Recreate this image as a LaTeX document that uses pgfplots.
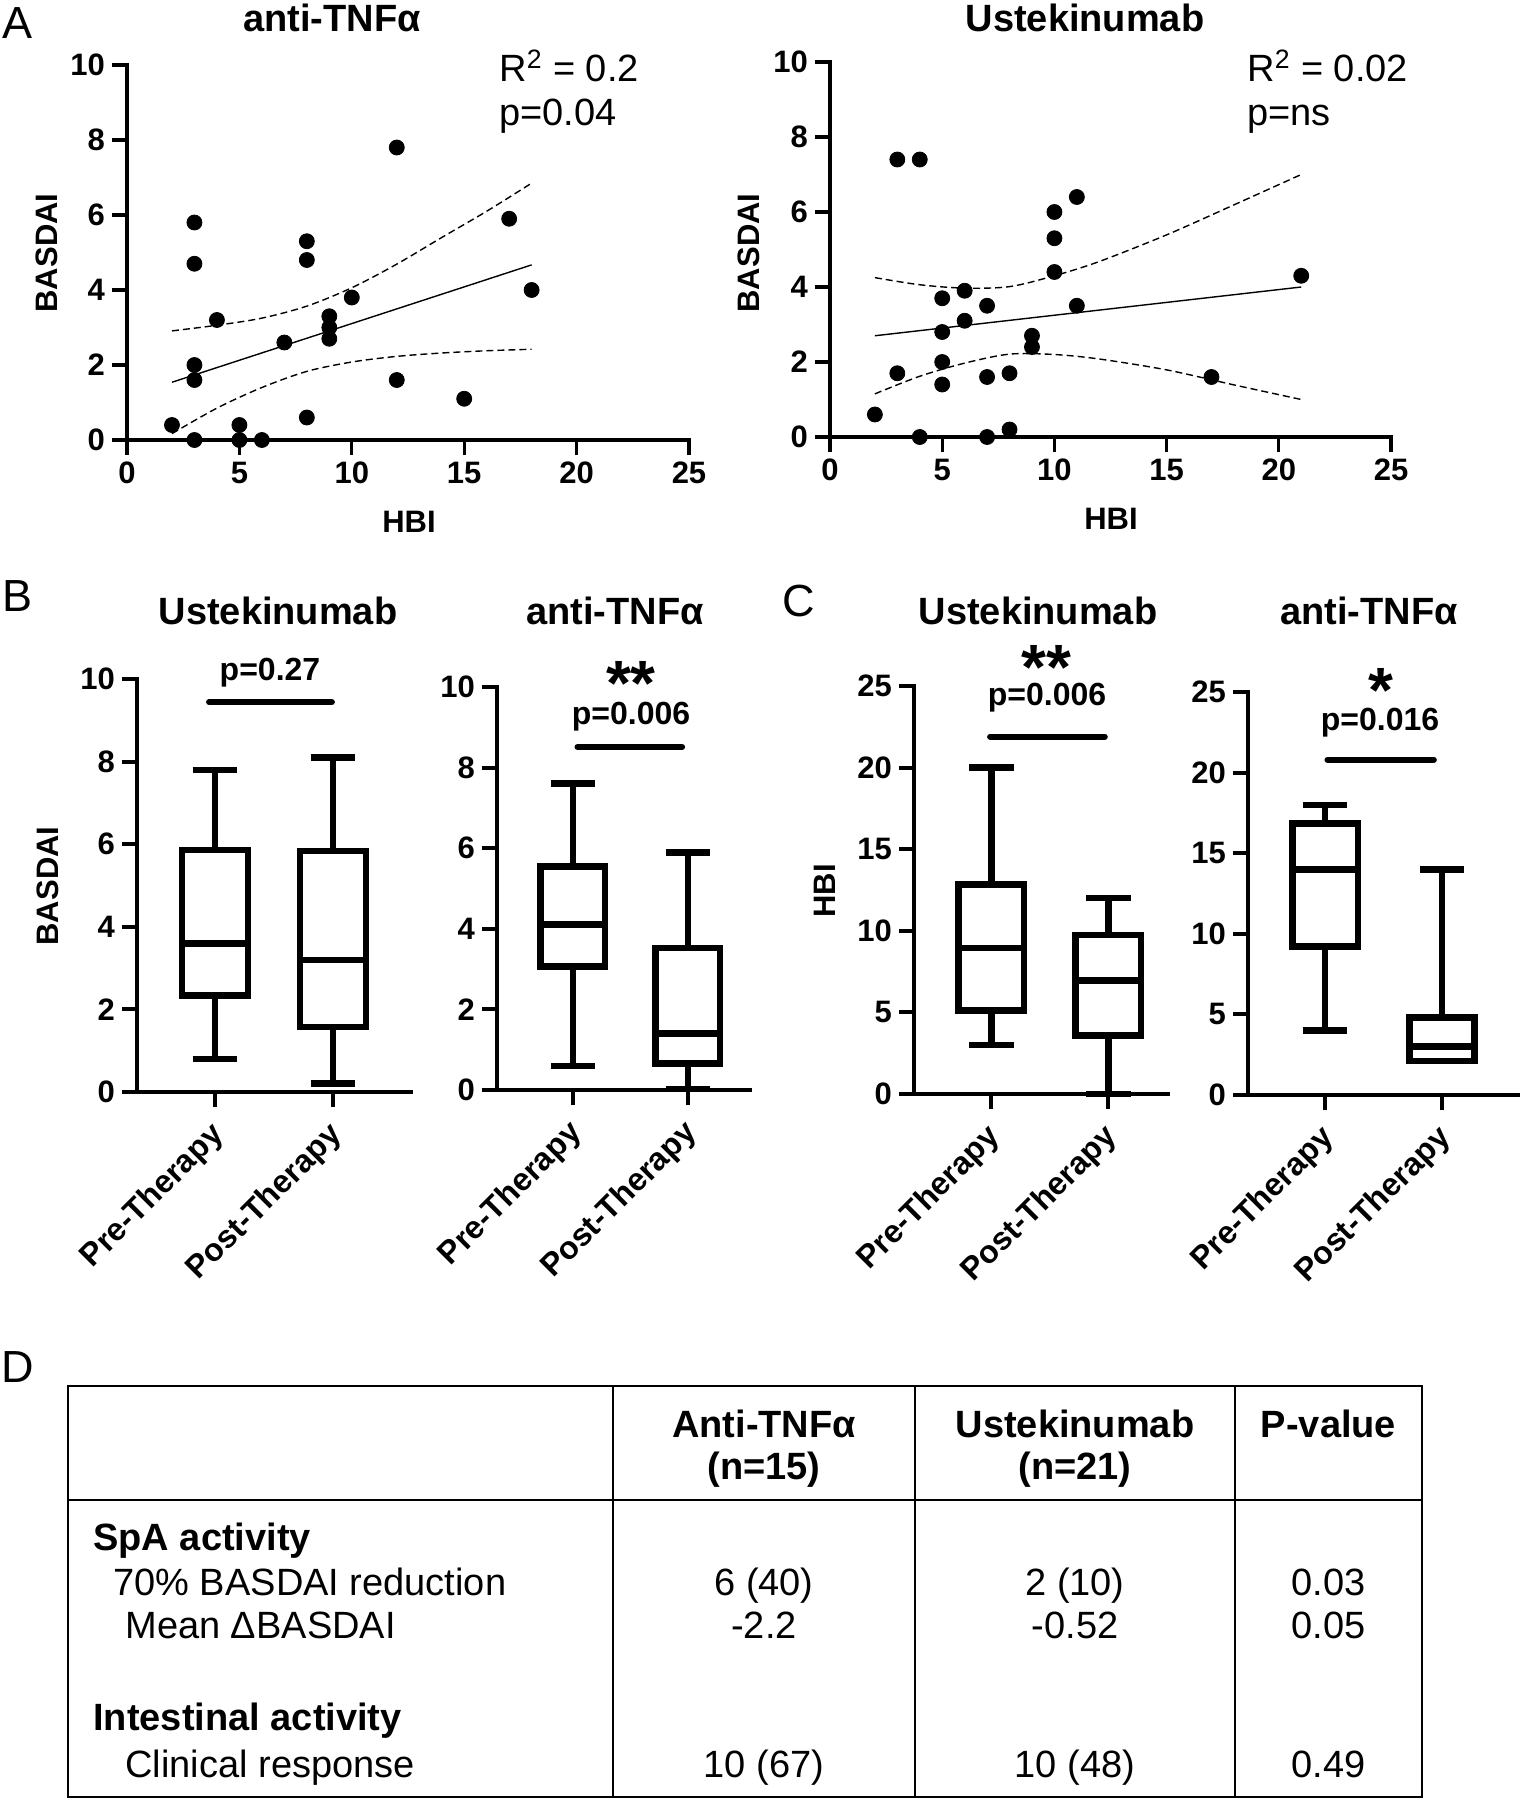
\documentclass[border=0pt]{standalone}
\usepackage{fontspec}
\setmainfont{Liberation Sans}
\usepackage{pgfplots}
\pgfplotsset{compat=1.18}
\usepgfplotslibrary{statistics}
\newcommand\fs[1]{\fontsize{#1}{#1}\selectfont}

\pgfplotsset{
  base/.style={scale only axis, axis lines=left, clip=false, tick align=outside,
    major tick length=7.5pt, /pgf/number format/assume math mode=true,
    tick label style={font=\fs{15.5}\bfseries, black}, anchor=south west},
  sc/.style={base, axis line style={-, line width=1.6pt, line cap=rect},
    tick style={line width=1.6pt, black},
    xmin=0, xmax=25, ymin=0, ymax=10, xtick={0,5,...,25}, ytick={0,2,...,10}},
  bx/.style={base, axis line style={-, line width=2pt, line cap=rect},
    tick style={line width=2pt, black}, boxplot/draw direction=y,
    boxplot/every box/.append style={draw=black, line width=3.3pt},
    boxplot/every whisker/.append style={draw=black, line width=3.3pt},
    boxplot/every median/.append style={draw=black, line width=3.3pt},
    xtick={0,1}, xticklabels={Pre-Therapy,Post-Therapy},
    xticklabel style={rotate=45, anchor=east, xshift=-3.25pt, yshift=-9.75pt, font=\fs{16}\bfseries}},
  bxp/.style={black, line width=3.3pt, solid},
}

\begin{document}
\begin{tikzpicture}
\useasboundingbox (0,0) rectangle (760pt,-900pt);

% ---------------- A left: anti-TNF scatter
\begin{axis}[sc, at={(63.5pt,-220pt)}, width=281pt, height=187.5pt]
\addplot[black, line width=0.7pt, dash pattern=on 3.5pt off 2pt, smooth] coordinates
  {(2,2.91) (4,3.06) (6,3.25) (8,3.57) (10,4.06) (12,4.69) (14,5.4) (16,6.1) (18,6.85)};
\addplot[black, line width=0.7pt, dash pattern=on 3.5pt off 2pt, smooth] coordinates
  {(2,0.17) (4,0.85) (6,1.4) (8,1.83) (10,2.08) (12,2.23) (14,2.32) (16,2.38) (18,2.42)};
\addplot[black, line width=0.7pt] coordinates {(2,1.54) (18,4.67)};
\addplot[only marks, mark=*, mark size=3.75pt, black] coordinates
  {(2,0.4) (3,5.8) (3,4.7) (3,2.0) (3,1.6) (3,0) (4,3.2) (5,0.4) (5,0) (6,0)
   (7,2.6) (8,5.3) (8,4.8) (8,0.6) (9,3.3) (9,3.0) (9,2.7) (10,3.8) (12,7.8)
   (12,1.6) (15,1.1) (17,5.9) (18,4.0)};
\end{axis}

% ---------------- A right: Ustekinumab scatter
\begin{axis}[sc, at={(415pt,-218.5pt)}, width=280.5pt, height=187.5pt]
\addplot[black, line width=0.7pt, dash pattern=on 3.5pt off 2pt, smooth] coordinates
  {(2,4.25) (4,4.06) (6,3.97) (8,4.01) (10,4.3) (12,4.68) (15,5.39) (18,6.19) (21,7.0)};
\addplot[black, line width=0.7pt, dash pattern=on 3.5pt off 2pt, smooth] coordinates
  {(2,1.15) (4,1.62) (6,1.97) (8,2.21) (10,2.2) (12,2.08) (15,1.79) (18,1.39) (21,1.0)};
\addplot[black, line width=0.7pt] coordinates {(2,2.7) (21,4.0)};
\addplot[only marks, mark=*, mark size=3.75pt, black] coordinates
  {(2,0.6) (3,7.4) (4,7.4) (3,1.7) (4,0) (5,3.7) (5,2.8) (5,2.0) (5,1.4) (6,3.9)
   (6,3.1) (7,3.5) (7,1.6) (7,0) (8,1.7) (8,0.2) (9,2.7) (9,2.4) (10,6.0)
   (10,5.3) (10,4.4) (11,6.4) (11,3.5) (17,1.6) (21,4.3)};
\end{axis}

% ---------------- B left: Ustekinumab BASDAI
\begin{axis}[bx, at={(68.5pt,-546pt)}, width=137pt, height=206.5pt,
  xmin=-0.66, xmax=1.66, ymin=0, ymax=10, ytick={0,2,...,10}]
\addplot[bxp, boxplot prepared={draw position=0, lower whisker=0.8, lower quartile=2.33,
  median=3.6, upper quartile=5.86, upper whisker=7.8, box extend=0.56, whisker extend=0.38}] coordinates {};
\addplot[bxp, boxplot prepared={draw position=1, lower whisker=0.2, lower quartile=1.57,
  median=3.2, upper quartile=5.84, upper whisker=8.1, box extend=0.56, whisker extend=0.38}] coordinates {};
\addplot[black, line width=3pt, line cap=round] coordinates {(-0.05,9.44) (0.99,9.44)};
\end{axis}

% ---------------- B right: anti-TNF BASDAI
\begin{axis}[bx, at={(248.5pt,-545pt)}, width=126.5pt, height=201.5pt,
  xmin=-0.66, xmax=1.54, ymin=0, ymax=10, ytick={0,2,...,10}]
\addplot[bxp, boxplot prepared={draw position=0, lower whisker=0.6, lower quartile=3.07,
  median=4.1, upper quartile=5.55, upper whisker=7.6, box extend=0.56, whisker extend=0.38}] coordinates {};
\addplot[bxp, boxplot prepared={draw position=1, lower whisker=0.03, lower quartile=0.66,
  median=1.4, upper quartile=3.52, upper whisker=5.9, box extend=0.56, whisker extend=0.38}] coordinates {};
\addplot[black, line width=3pt, line cap=round] coordinates {(0.04,8.51) (0.95,8.51)};
\end{axis}

% ---------------- C left: Ustekinumab HBI
\begin{axis}[bx, at={(457pt,-547pt)}, width=127pt, height=204pt,
  xmin=-0.66, xmax=1.51, ymin=0, ymax=25, ytick={0,5,...,25}]
\addplot[bxp, boxplot prepared={draw position=0, lower whisker=3, lower quartile=5.1,
  median=8.95, upper quartile=12.85, upper whisker=20, box extend=0.56, whisker extend=0.38}] coordinates {};
\addplot[bxp, boxplot prepared={draw position=1, lower whisker=0, lower quartile=3.6,
  median=6.95, upper quartile=9.75, upper whisker=12, box extend=0.56, whisker extend=0.38}] coordinates {};
\addplot[black, line width=3pt, line cap=round] coordinates {(-0.01,21.9) (0.97,21.9)};
\end{axis}

% ---------------- C right: anti-TNF HBI
\begin{axis}[bx, at={(624pt,-547.5pt)}, width=135pt, height=201.5pt,
  xmin=-0.66, xmax=1.65, ymin=0, ymax=25, ytick={0,5,...,25}]
\addplot[bxp, boxplot prepared={draw position=0, lower whisker=4, lower quartile=9.2,
  median=14, upper quartile=16.85, upper whisker=18, box extend=0.56, whisker extend=0.38}] coordinates {};
\addplot[bxp, boxplot prepared={draw position=1, lower whisker=2.1, lower quartile=2.1,
  median=3.0, upper quartile=4.8, upper whisker=14, box extend=0.56, whisker extend=0.38}] coordinates {};
\addplot[black, line width=3pt, line cap=round] coordinates {(0.02,20.8) (0.93,20.8)};
\end{axis}

% ---------------- texts
\begin{scope}[every node/.style={inner sep=0pt}]
% panel letters
\node[anchor=base west, font=\fs{22.5}] at (1pt,-19pt) {A};
\node[anchor=base west, font=\fs{22.5}] at (1pt,-305.5pt) {B};
\node[anchor=base west, font=\fs{22.5}] at (391pt,-308pt) {C};
\node[anchor=base west, font=\fs{22.5}] at (0.5pt,-691pt) {D};
% titles
\node[anchor=base, font=\fs{19}\bfseries] at (166pt,-15.5pt) {anti-TNFα};
\node[anchor=base, font=\fs{19}\bfseries] at (542.5pt,-15.5pt) {Ustekinumab};
\node[anchor=base, font=\fs{19}\bfseries] at (139pt,-312pt) {Ustekinumab};
\node[anchor=base, font=\fs{19}\bfseries] at (307.5pt,-312pt) {anti-TNFα};
\node[anchor=base, font=\fs{19}\bfseries] at (519pt,-312pt) {Ustekinumab};
\node[anchor=base, font=\fs{19}\bfseries] at (684.5pt,-312pt) {anti-TNFα};
% axis labels
\node[rotate=90, font=\fs{15.5}\bfseries] at (23.5pt,-126.5pt) {BASDAI};
\node[rotate=90, font=\fs{15.5}\bfseries] at (374.5pt,-126.5pt) {BASDAI};
\node[font=\fs{15.5}\bfseries] at (204.5pt,-261pt) {HBI};
\node[font=\fs{15.5}\bfseries] at (555.5pt,-259.5pt) {HBI};
\node[rotate=90, font=\fs{15.5}\bfseries] at (23.75pt,-443pt) {BASDAI};
\node[rotate=90, font=\fs{15.5}\bfseries] at (412.5pt,-445.5pt) {HBI};
% regression stats
\node[anchor=base west, font=\fs{19}] at (249.5pt,-40.5pt) {R\textsuperscript{2} = 0.2};
\node[anchor=base west, font=\fs{19}] at (249.5pt,-62.5pt) {p=0.04};
\node[anchor=base west, font=\fs{19}] at (623.5pt,-40.5pt) {R\textsuperscript{2} = 0.02};
\node[anchor=base west, font=\fs{19}] at (623.5pt,-62.5pt) {p=ns};
% significance
\node[anchor=base, font=\fs{16}\bfseries] at (135pt,-340pt) {p=0.27};
\node[anchor=base, font=\fs{16}\bfseries] at (315.5pt,-362pt) {p=0.006};
\node[anchor=base, font=\fs{32}\bfseries] at (315.5pt,-352.5pt) {**};
\node[anchor=base, font=\fs{16}\bfseries] at (523.5pt,-352.5pt) {p=0.006};
\node[anchor=base, font=\fs{32}\bfseries] at (523pt,-344.5pt) {**};
\node[anchor=base, font=\fs{16}\bfseries] at (690pt,-365pt) {p=0.016};
\node[anchor=base, font=\fs{32}\bfseries] at (690.5pt,-356pt) {*};
% table
\draw[line width=1.3pt] (34pt,-693pt) rectangle (711pt,-898.5pt);
\draw[line width=1.3pt] (34pt,-750pt) -- (711pt,-750pt);
\draw[line width=1.3pt] (306.5pt,-693pt) -- (306.5pt,-898.5pt);
\draw[line width=1.3pt] (457.5pt,-693pt) -- (457.5pt,-898.5pt);
\draw[line width=1.3pt] (617.5pt,-693pt) -- (617.5pt,-898.5pt);
\node[anchor=base, font=\fs{19}\bfseries] at (382pt,-718.5pt) {Anti-TNFα};
\node[anchor=base, font=\fs{19}\bfseries] at (382pt,-739.5pt) {(n=15)};
\node[anchor=base, font=\fs{19}\bfseries] at (537.5pt,-718.5pt) {Ustekinumab};
\node[anchor=base, font=\fs{19}\bfseries] at (537.5pt,-739.5pt) {(n=21)};
\node[anchor=base, font=\fs{19}\bfseries] at (664.25pt,-718.5pt) {P-value};
\node[anchor=base west, font=\fs{19}\bfseries] at (46.5pt,-775pt) {SpA activity};
\node[anchor=base west, font=\fs{19}] at (56.5pt,-797.5pt) {70\% BASDAI reduction};
\node[anchor=base west, font=\fs{19}] at (62.5pt,-819pt) {Mean ΔBASDAI};
\node[anchor=base west, font=\fs{19}\bfseries] at (46.5pt,-865pt) {Intestinal activity};
\node[anchor=base west, font=\fs{19}] at (62.5pt,-888.5pt) {Clinical response};
\node[anchor=base, font=\fs{19}] at (382pt,-797.5pt) {6 (40)};
\node[anchor=base, font=\fs{19}] at (537.5pt,-797.5pt) {2 (10)};
\node[anchor=base, font=\fs{19}] at (664.25pt,-797.5pt) {0.03};
\node[anchor=base, font=\fs{19}] at (382pt,-819pt) {-2.2};
\node[anchor=base, font=\fs{19}] at (537.5pt,-819pt) {-0.52};
\node[anchor=base, font=\fs{19}] at (664.25pt,-819pt) {0.05};
\node[anchor=base, font=\fs{19}] at (382pt,-888.5pt) {10 (67)};
\node[anchor=base, font=\fs{19}] at (537.5pt,-888.5pt) {10 (48)};
\node[anchor=base, font=\fs{19}] at (664.25pt,-888.5pt) {0.49};
\end{scope}
\end{tikzpicture}
\end{document}
